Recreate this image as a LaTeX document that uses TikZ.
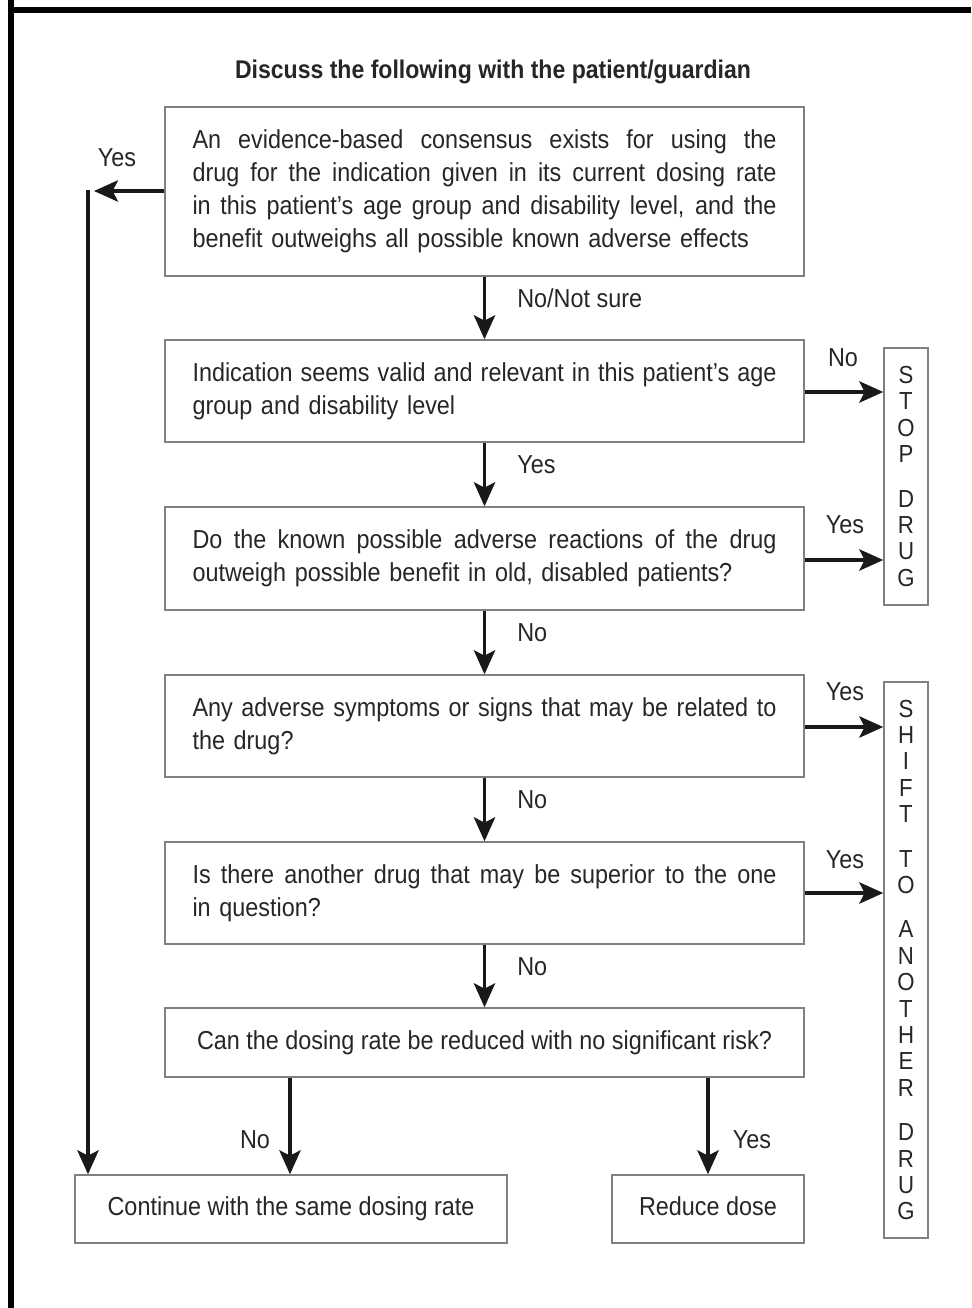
\documentclass[tikz,border=0pt]{standalone}
\usepackage{fontspec}
\setmainfont{Liberation Sans}[FakeStretch=0.9]
\usetikzlibrary{arrows.meta,calc}
\newlength\pxu
\setlength\pxu{0.75pt}
\newcommand{\jline}[1]{{\spaceskip=0pt\xspaceskip=0pt\makebox[584\pxu][s]{#1}}}
\begin{document}
\begin{tikzpicture}[x=0.75pt,y=-0.75pt,
  txt/.style={font=\fontsize{19.5pt}{24.75pt}\selectfont, text=black!85},
  qbox/.style={txt, draw=black!50, line width=1.1pt, minimum width=639\pxu, text width=584\pxu, align=left, inner sep=0pt},
  endbox/.style={txt, draw=black!50, line width=1.1pt, inner sep=0pt, align=center},
  onebox/.style={endbox, text height=14pt, text depth=4pt},
  vbox/.style={endbox, minimum width=44\pxu, font=\fontsize{18.5pt}{19.8pt}\selectfont},
  lab/.style={txt, inner sep=0pt},
  arr/.style={line width=2.3pt, black!90, -{Stealth[length=18pt,width=16pt,inset=4pt]}}
]
\useasboundingbox (0,0) rectangle (971,1308);
% frame
\fill[black] (8,0) rectangle (14,1308);
\fill[black] (8,7) rectangle (971,13);

\node[txt, font=\bfseries\fontsize{19.2pt}{24.75pt}\selectfont] (title) at (493,72) {Discuss the following with the patient/guardian};

\node[qbox, minimum height=169\pxu] (b1) at (484.5,191.5) {\jline{An evidence-based consensus exists for using the}\\\jline{drug for the indication given in its current dosing rate}\\\jline{in this patient’s age group and disability level, and the}\\benefit outweighs all possible known adverse effects};
\node[qbox, minimum height=102\pxu] (b2) at (484.5,391) {\jline{Indication seems valid and relevant in this patient’s age}\\group and disability level};
\node[qbox, minimum height=103\pxu] (b3) at (484.5,558.5) {\jline{Do the known possible adverse reactions of the drug}\\outweigh possible benefit in old, disabled patients?};
\node[qbox, minimum height=102\pxu] (b4) at (484.5,726) {\jline{Any adverse symptoms or signs that may be related to}\\the drug?};
\node[qbox, minimum height=102\pxu] (b5) at (484.5,893) {\jline{Is there another drug that may be superior to the one}\\in question?};
\node[onebox, minimum width=639\pxu, minimum height=69\pxu] (b6) at (484.5,1042.5) {Can the dosing rate be reduced with no significant risk?};

\node[onebox, minimum width=432\pxu, minimum height=68\pxu] (cont) at (291,1209) {Continue with the same dosing rate};
\node[onebox, minimum width=192\pxu, minimum height=68\pxu] (red) at (708,1209) {Reduce dose};

\node[vbox, minimum height=257\pxu] (stop) at (906,476.5) {S\\T\\O\\P\\[13.5pt]D\\R\\U\\G};
\node[vbox, minimum height=556\pxu] (shift) at (906,960) {S\\H\\I\\F\\T\\[13.5pt]T\\O\\[13.5pt]A\\N\\O\\T\\H\\E\\R\\[13.5pt]D\\R\\U\\G};

% vertical flow
\draw[arr] (b1.south) -- (b2.north);
\draw[arr] (b2.south) -- (b3.north);
\draw[arr] (b3.south) -- (b4.north);
\draw[arr] (b4.south) -- (b5.north);
\draw[arr] (b5.south) -- (b6.north);
\node[lab, anchor=west] (l1) at (517,298) {No/Not sure};
\node[lab, anchor=west] (l2) at (517,465) {Yes};
\node[lab, anchor=west] (l3) at (517,633) {No};
\node[lab, anchor=west] (l4) at (517,800) {No};
\node[lab, anchor=west] (l5) at (517,967) {No};

% right branches
\draw[arr] (b2.east |- 0,392) -- (stop.west |- 0,392);
\draw[arr] (b3.east |- 0,560) -- (stop.west |- 0,560);
\draw[arr] (b4.east |- 0,727) -- (shift.west |- 0,727);
\draw[arr] (b5.east |- 0,893) -- (shift.west |- 0,893);
\node[lab] (r1) at (843,358) {No};
\node[lab] (r2) at (845,525) {Yes};
\node[lab] (r3) at (845,692) {Yes};
\node[lab] (r4) at (845,860) {Yes};

% bottom branches
\draw[arr] (b6.south -| 290,0) -- (cont.north -| 290,0);
\draw[arr] (b6.south -| 708,0) -- (red.north);
\node[lab] (n6) at (255,1140) {No};
\node[lab] (y6) at (752,1140) {Yes};

% left yes branch
\coordinate (ytip) at (94,191);
\coordinate (vtop) at (88,190);
\draw[arr] (b1.west |- ytip) -- (ytip);
\node[lab] (y1) at (117,158) {Yes};
\draw[arr] (vtop) -- (cont.north -| vtop);
\end{tikzpicture}
\end{document}
